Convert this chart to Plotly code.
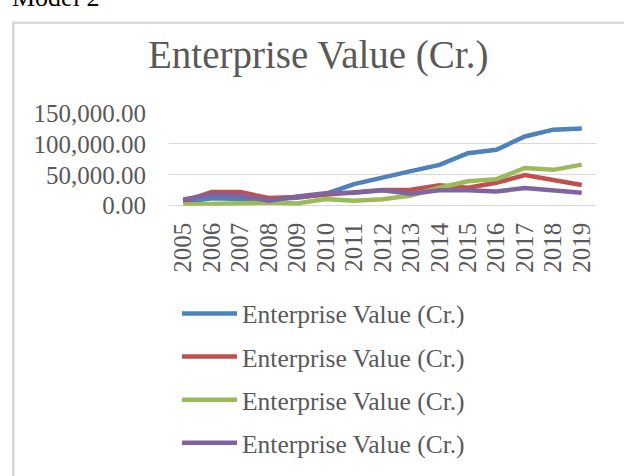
import plotly.graph_objects as go

years = ["2005", "2006", "2007", "2008", "2009", "2010", "2011", "2012",
         "2013", "2014", "2015", "2016", "2017", "2018", "2019"]
series_names = ["Enterprise Value (Cr.)"] * 4
blue = [5500, 12000, 11000, 10500, 13000, 19000, 35000, 46000, 56000, 66000, 85000, 90500, 112000, 123000, 125000]
red = [7000, 22000, 22000, 12500, 14000, 18000, 22000, 25500, 26000, 33000, 29000, 37000, 49500, 41000, 33500]
green = [2000, 3000, 4000, 5000, 3500, 11000, 8000, 10500, 16500, 29000, 39500, 43000, 61000, 58000, 66500]
purple = [10000, 18000, 17000, 8000, 15000, 20000, 21000, 25000, 19500, 25000, 25000, 23000, 28500, 24500, 21000]
values = [blue, red, green, purple]
colors = ["#4F81BD", "#C0504D", "#9BBB59", "#8064A2"]

W, H = 624, 476
def px(x):
    return x / W
def py(y):
    return 1 - y / H

font_family = "Liberation Serif"
grey = "#595959"

fig = go.Figure()
for i, (name, vals, col) in enumerate(zip(series_names, values, colors)):
    fig.add_trace(go.Scatter(
        x=years, y=vals, name=name, mode="lines",
        line=dict(color=col, width=4.5),
        legendgroup=f"g{i}",
    ))

fig.update_layout(
    width=W, height=H,
    margin=dict(l=0, r=0, t=0, b=0),
    paper_bgcolor="white", plot_bgcolor="white",
    font=dict(family=font_family, color=grey, size=25),
    showlegend=True,
    legend=dict(
        x=px(177), y=py(294), xanchor="left", yanchor="top",
        font=dict(family=font_family, size=25.5, color=grey),
        tracegroupgap=7, traceorder="grouped", itemwidth=55,
        bgcolor="rgba(0,0,0,0)",
    ),
    xaxis=dict(
        domain=[px(169), px(596)], type="category",
        range=[-0.5, 14.5], tickangle=-90,
        tickmode="array", tickvals=years, ticktext=years,
        showgrid=False, showline=False, zeroline=False,
        ticks="", ticklabelstandoff=11,
        tickfont=dict(family=font_family, size=25, color=grey),
        anchor="y",
    ),
    yaxis=dict(
        domain=[py(204.3), py(106)], range=[0, 150000],
        tickvals=[0, 50000, 100000, 150000], tickformat=",.2f",
        showgrid=True, gridcolor="#D9D9D9", gridwidth=1.3,
        zeroline=True, zerolinecolor="#D9D9D9", zerolinewidth=1.3,
        showline=False, ticks="", ticklabelstandoff=22,
        tickfont=dict(family=font_family, size=25, color=grey),
    ),
    annotations=[
        dict(text="Enterprise Value (Cr.)", x=px(318), y=py(44), xref="paper", yref="paper",
             xanchor="center", yanchor="middle", showarrow=False,
             font=dict(family=font_family, size=39, color=grey)),
        dict(text="Model 2", x=px(10), y=py(1), xref="paper", yref="paper",
             xanchor="left", yanchor="bottom", showarrow=False,
             font=dict(family=font_family, size=26, color="black")),
    ],
    shapes=[
        dict(type="rect", xref="paper", yref="paper",
             x0=px(13.3), x1=px(640), y0=py(500), y1=py(10.3),
             line=dict(color="#D9D9D9", width=2.5), fillcolor="rgba(0,0,0,0)", layer="below"),
    ],
)

fig.write_html("out.html", config={"displayModeBar": False},
               post_script="document.body.style.margin='0';")
